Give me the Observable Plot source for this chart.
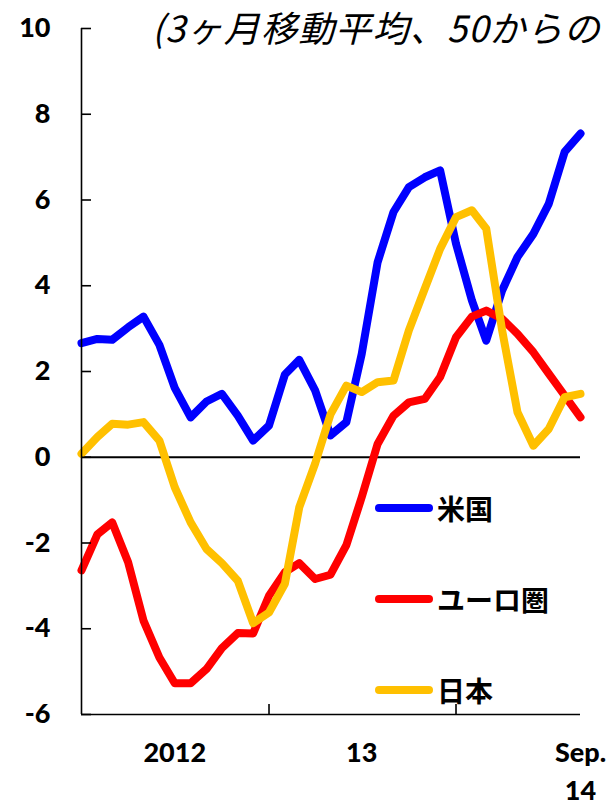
<!DOCTYPE html>
<html>
<head>
<meta charset="utf-8">
<script src="https://cdn.jsdelivr.net/npm/d3@7"></script>
<script src="https://cdn.jsdelivr.net/npm/@observablehq/plot@0.6"></script>
<style>
  body { margin: 0; background: #fff; }
  #wrap { position: relative; width: 609px; height: 806px; overflow: hidden; background: #fff; }
  #title {
    position: absolute; left: 152px; top: 6px;
    font-family: "Noto Sans CJK JP"; font-style: italic; font-size: 36px; line-height: 40px;
    letter-spacing: 1.2px; white-space: nowrap; color: #000;
  }
  .item {
    position: absolute; left: 375px; height: 40px;
    display: flex; align-items: center;
  }
  .swatch { width: 58px; height: 8px; border-radius: 4px; margin-right: 4px; }
  .item span.lbl {
    font-family: "Noto Sans CJK JP"; font-weight: bold; font-size: 28px; line-height: 40px; color: #000;
  }
</style>
</head>
<body>
<div id="wrap">
  <div id="chart"></div>
  <div id="title">(3ヶ月移動平均、50からの</div>
  <div id="legend"></div>
</div>
<script>
// Monthly PMI deviation from 50 (3-month moving average)
const months = [
  "2012-01","2012-02","2012-03","2012-04","2012-05","2012-06",
  "2012-07","2012-08","2012-09","2012-10","2012-11","2012-12",
  "2013-01","2013-02","2013-03","2013-04","2013-05","2013-06",
  "2013-07","2013-08","2013-09","2013-10","2013-11","2013-12",
  "2014-01","2014-02","2014-03","2014-04","2014-05","2014-06",
  "2014-07","2014-08","2014-09"
];
const us = [2.66, 2.76, 2.74, 3.03, 3.28, 2.62, 1.62, 0.93, 1.30, 1.48, 0.97, 0.39,
            0.74, 1.93, 2.27, 1.56, 0.51, 0.82, 2.41, 4.55, 5.72, 6.30, 6.53, 6.69,
            4.98, 3.66, 2.72, 3.89, 4.67, 5.21, 5.91, 7.12, 7.55];
const euro = [-2.64, -1.80, -1.52, -2.45, -3.81, -4.67, -5.27, -5.27, -4.94, -4.45, -4.10, -4.11,
              -3.23, -2.68, -2.47, -2.84, -2.74, -2.05, -0.93, 0.31, 0.97, 1.28, 1.36, 1.87,
              2.80, 3.28, 3.42, 3.23, 2.88, 2.45, 1.95, 1.44, 0.93];
const japan = [0.08, 0.47, 0.78, 0.76, 0.82, 0.39, -0.70, -1.52, -2.14, -2.47, -2.88, -3.87,
               -3.62, -2.95, -1.17, -0.15, 1.00, 1.67, 1.52, 1.75, 1.79, 2.96, 3.93, 4.86,
               5.60, 5.76, 5.33, 2.96, 1.05, 0.27, 0.66, 1.40, 1.48];

const seriesNames = ["米国", "ユーロ圏", "日本"];
const seriesColors = ["#0000FF", "#FF0000", "#FFC000"];

const yTicks = [-6, -4, -2, 0, 2, 4, 6, 8, 10];
const xTickMonths = ["2013-01", "2014-01"];
const xLabelMonths = ["2012-07", "2013-07", "2014-09"];
const xLabelTexts = ["2012", "13", "Sep.\n14"];

const parse = d3.utcParse("%Y-%m");
const dates = months.map(parse);
const xStart = dates[0];
const xEnd = dates[dates.length - 1];

const seriesLine = (values, color) =>
  Plot.line(values, {
    x: (d, i) => dates[i], y: (d) => d,
    stroke: color, strokeWidth: 8, strokeLinejoin: "round", strokeLinecap: "round"
  });

const labels = xLabelMonths.map((m, i) => ({date: parse(m), text: xLabelTexts[i]}));

const chart = Plot.plot({
  width: 609,
  height: 806,
  marginLeft: 81,
  marginRight: 29,
  marginTop: 28,
  marginBottom: 92,
  x: {type: "utc", domain: [xStart, xEnd]},
  y: {domain: [-6, 10]},
  style: {fontFamily: "Lato", fontSize: "27px", fontWeight: "bold", color: "#000", background: "#fff"},
  marks: [
    Plot.ruleY([0], {stroke: "#000", strokeWidth: 2}),
    seriesLine(us, seriesColors[0]),
    seriesLine(euro, seriesColors[1]),
    seriesLine(japan, seriesColors[2]),
    Plot.ruleX([xStart], {stroke: "#000", strokeWidth: 1.6}),
    Plot.ruleY([-6], {stroke: "#000", strokeWidth: 1.6}),
    Plot.axisY(yTicks, {
      anchor: "left", tickSize: -10, tickPadding: 41, strokeWidth: 1.6,
      tickFormat: (d) => String(d), label: null, fontWeight: 900
    }),
    Plot.axisX(xTickMonths.map(parse), {
      anchor: "bottom", tickSize: -10, strokeWidth: 1.6,
      tickFormat: () => "", label: null
    }),
    Plot.text(labels, {
      x: "date", text: "text", frameAnchor: "bottom", lineAnchor: "top",
      dy: 21, lineHeight: 1.4, fontWeight: 900, fill: "#000"
    })
  ]
});
document.getElementById("chart").appendChild(chart);

// Legend placed inside the plotting area
const legendTops = [488, 579, 670];
const legend = document.getElementById("legend");
seriesNames.forEach((name, i) => {
  const item = document.createElement("div");
  item.className = "item";
  item.style.top = legendTops[i] + "px";
  const sw = document.createElement("div");
  sw.className = "swatch";
  sw.style.background = seriesColors[i];
  const lbl = document.createElement("span");
  lbl.className = "lbl";
  lbl.textContent = name;
  item.appendChild(sw);
  item.appendChild(lbl);
  legend.appendChild(item);
});
</script>
</body>
</html>
